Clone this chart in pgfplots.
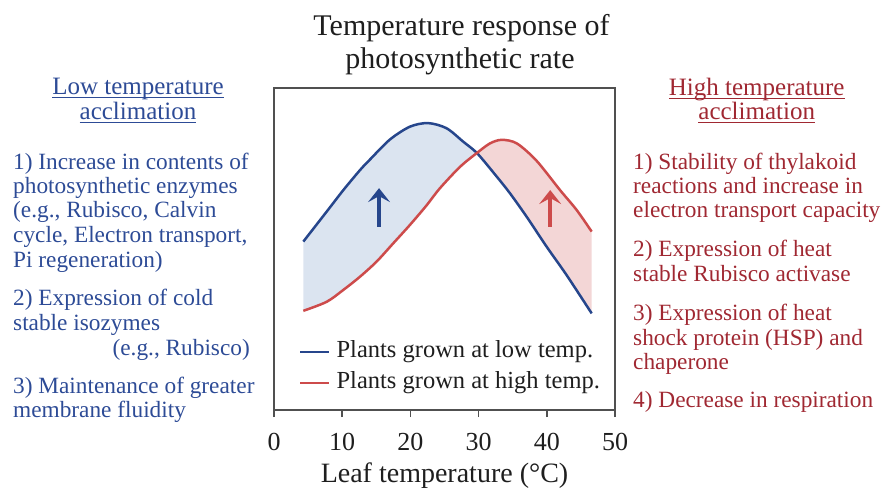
\documentclass[border=0pt]{standalone}
\usepackage{pgfplots}
\pgfplotsset{compat=1.18}
\usepgfplotslibrary{fillbetween}
\usetikzlibrary{arrows.meta}
\usepackage{fontspec}
\setmainfont{Liberation Serif}

\definecolor{lowline}{RGB}{38,70,140}
\definecolor{highline}{RGB}{205,75,75}
\definecolor{lowfill}{RGB}{219,228,240}
\definecolor{highfill}{RGB}{243,214,214}
\definecolor{lowtext}{RGB}{45,75,150}
\definecolor{hightext}{RGB}{160,40,50}
\definecolor{axisgray}{RGB}{80,80,80}
\definecolor{titlegray}{RGB}{30,30,30}

\newcommand\body{\fontsize{23.3}{24.5}\selectfont}
\newcommand\head{\fontsize{25}{25}\selectfont}
% underline that sits just under the baseline (crosses descenders, as in the original)
\newcommand\ul[1]{\leavevmode\setbox0\hbox{#1}\rlap{\rule[-3.5pt]{\wd0}{1.2pt}}\box0}

\begin{document}
\begin{tikzpicture}

\begin{axis}[
  at={(274pt,80pt)}, anchor=south west,
  scale only axis, width=341pt, height=322pt,
  xmin=0, xmax=50, ymin=0, ymax=100,
  set layers,
  axis line style={axisgray, line width=1.5pt},
  xtick={0,10,...,50}, ytick=\empty,
  xtick pos=bottom,
  tick align=outside,
  major tick length=7pt,
  tick style={axisgray, line width=1.5pt},
  /pgf/number format/assume math mode=true,
  xticklabel style={font=\fontsize{26}{26}\selectfont, text=titlegray, anchor=base, yshift=-33pt},
  xlabel={Leaf temperature (°C)},
  xlabel style={font=\fontsize{28}{28}\selectfont, text=titlegray, at={(axis description cs:0.5,0)}, anchor=base, yshift=-72pt},
  legend cell align=left,
  legend style={at={(0.073,0.132)}, anchor=west, draw=none, fill=none,
    inner sep=0pt, row sep=8pt, column sep=6pt,
    font=\fontsize{24.5}{26}\selectfont, text=titlegray,
    nodes={inner sep=0pt, text height=17pt, text depth=6pt}},
  legend image code/.code={\draw[#1] (0pt,0pt) -- (29pt,0pt);},
]
\addplot[lowline, line width=2.5pt, smooth, name path=low] coordinates {
  (4.30,52.3) (7.72,61.6) (10.17,68.3) (12.61,74.5) (14.08,77.8)
  (17.00,84.0) (19.94,88.0) (22.60,89.1) (25.30,87.5) (27.76,83.3)
  (29.80,79.7) (32.65,72.5) (34.60,67.3) (37.05,60.0) (39.98,50.7)
  (42.90,41.9) (46.58,30.0)
};
\addlegendentry{Plants grown at low temp.}
\addplot[highline, line width=2.5pt, smooth, name path=high] coordinates {
  (4.30,30.8) (7.72,33.6) (10.17,37.3) (12.61,41.4) (15.05,46.1)
  (17.50,51.8) (19.94,57.5) (22.39,63.6) (24.30,68.8) (27.27,75.5)
  (29.80,79.9) (31.67,82.8) (33.38,83.9) (35.60,82.8) (38.50,77.4)
  (41.94,68.3) (44.38,62.1) (46.58,55.4)
};
\addlegendentry{Plants grown at high temp.}
\addplot[forget plot] fill between[of=low and high, split,
  every segment no 0/.style={fill=lowfill},
  every segment no 1/.style={fill=highfill}];

\draw[lowline, line width=4.5pt, -{Stealth[length=14pt,width=22pt,inset=6pt]}]
  (axis cs:15.4,56.9) -- (axis cs:15.4,68.9);
\draw[highline, line width=4.5pt, -{Stealth[length=14pt,width=22pt,inset=6pt]}]
  (axis cs:40.5,56.9) -- (axis cs:40.5,68.3);
\end{axis}

% text round the axis, in picture pixels measured from the top left corner
\begin{scope}[x=1pt, y=-1pt, shift={(0pt,490pt)}, every node/.style={inner sep=0pt}]
\node[anchor=base, font=\fontsize{30}{30}\selectfont, text=titlegray] at (461.5,36) {Temperature response of};
\node[anchor=base, font=\fontsize{30}{30}\selectfont, text=titlegray] at (460,68.3) {photosynthetic rate};

\node[anchor=base, font=\head, text=lowtext] at (138,95) {\ul{Low temperature}};
\node[anchor=base, font=\head, text=lowtext] at (138,119.3) {\ul{acclimation}};
\begin{scope}[every node/.append style={anchor=base west, font=\body, text=lowtext}]
\node at (13,170) {1) Increase in contents of};
\node at (13,194) {photosynthetic enzymes};
\node at (13,218) {(e.g., Rubisco, Calvin};
\node at (13,243) {cycle, Electron transport,};
\node at (13,268) {Pi regeneration)};
\node at (13,305) {2) Expression of cold};
\node at (13,330) {stable isozymes};
\node[anchor=base east] at (250,355) {(e.g., Rubisco)};
\node at (13,393) {3) Maintenance of greater};
\node at (13,417) {membrane fluidity};
\end{scope}

\node[anchor=base, font=\head, text=hightext] at (756.7,96) {\ul{High temperature}};
\node[anchor=base, font=\head, text=hightext] at (756.7,120) {\ul{acclimation}};
\begin{scope}[every node/.append style={anchor=base west, font=\body, text=hightext}]
\node at (633,170) {1) Stability of thylakoid};
\node at (633,194) {reactions and increase in};
\node at (633,218) {electron transport capacity};
\node at (633,257) {2) Expression of heat};
\node at (633,282) {stable Rubisco activase};
\node at (633,320) {3) Expression of heat};
\node at (633,345) {shock protein (HSP) and};
\node at (633,369) {chaperone};
\node at (633,407) {4) Decrease in respiration};
\end{scope}
\end{scope}

% the page is exactly the size of the reference picture
\pgfresetboundingbox
\path[use as bounding box] (0,0) rectangle (882pt,490pt);
\end{tikzpicture}
\end{document}
